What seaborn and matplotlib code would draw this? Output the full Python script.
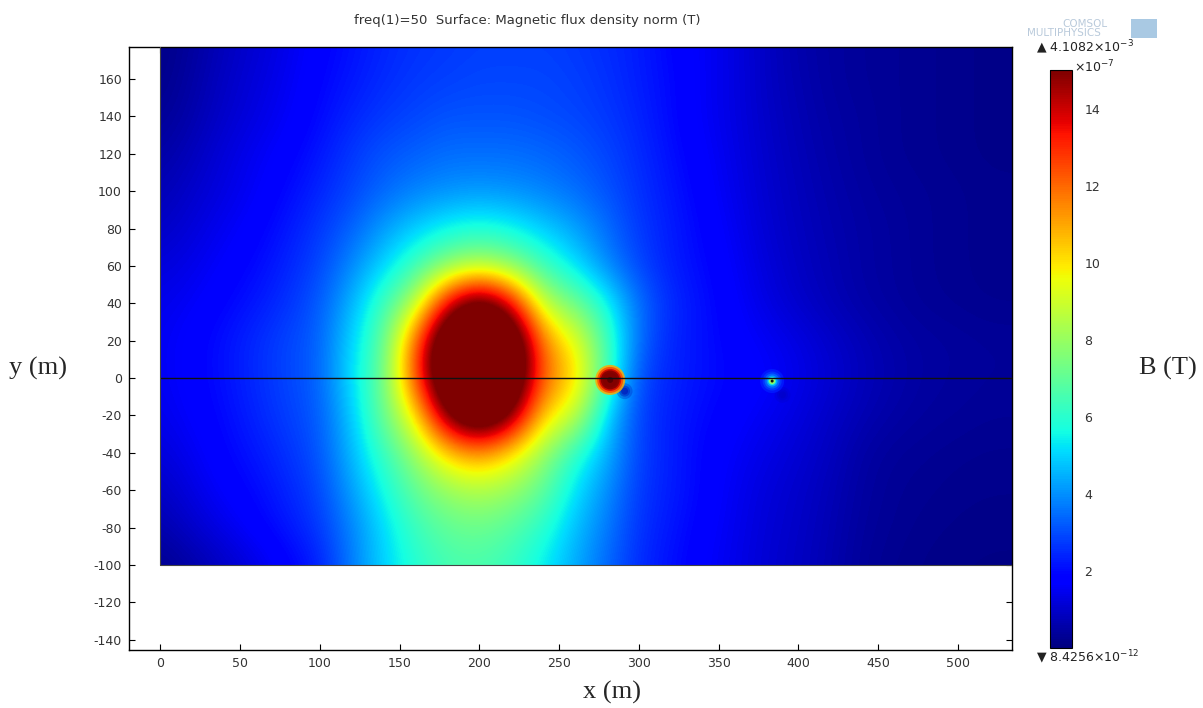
import numpy as np
import matplotlib
matplotlib.use("Agg")
import matplotlib.pyplot as plt
from matplotlib.patches import Rectangle
import seaborn as sns

# ---------------- data (values in 1e-7 T) ----------------
x_nodes = [0, 20, 40, 60, 80, 100, 120, 140, 160, 180, 200, 220, 240, 260,
           280, 300, 320, 340, 360, 380, 400, 420, 440, 460, 480, 500, 520, 540]
y_nodes = [180, 160, 140, 120, 100, 80, 60, 40, 20, 0, -20, -40, -60, -80, -100]

b_180 = [0.1, 0.4, 0.8, 1.1, 1.4, 1.8, 2.1, 2.4, 2.6, 2.7, 2.8, 2.8, 2.8, 2.7, 2.5, 2.3, 1.9, 1.6, 1.3, 0.9, 0.6, 0.45, 0.35, 0.3, 0.25, 0.2, 0.15, 0.15]
b_160 = [0.15, 0.5, 0.9, 1.2, 1.5, 1.9, 2.2, 2.5, 2.7, 2.8, 2.9, 2.9, 2.9, 2.8, 2.6, 2.3, 2.0, 1.6, 1.3, 0.9, 0.65, 0.45, 0.35, 0.3, 0.25, 0.2, 0.15, 0.15]
b_140 = [0.3, 0.6, 1.0, 1.3, 1.6, 2.0, 2.4, 2.7, 2.9, 3.1, 3.1, 3.1, 3.0, 2.9, 2.7, 2.4, 2.0, 1.6, 1.3, 0.95, 0.7, 0.5, 0.4, 0.3, 0.25, 0.2, 0.15, 0.15]
b_120 = [0.5, 0.8, 1.2, 1.5, 1.8, 2.2, 2.7, 3.1, 3.3, 3.5, 3.5, 3.5, 3.4, 3.2, 2.9, 2.5, 2.1, 1.7, 1.35, 1.0, 0.75, 0.55, 0.4, 0.3, 0.25, 0.2, 0.15, 0.15]
b_100 = [0.7, 1.0, 1.3, 1.6, 2.0, 2.4, 2.9, 3.4, 3.8, 4.0, 4.1, 4.0, 3.8, 3.5, 3.1, 2.6, 2.2, 1.8, 1.4, 1.05, 0.8, 0.6, 0.45, 0.35, 0.3, 0.25, 0.2, 0.2]
b_80 = [0.9, 1.2, 1.5, 1.8, 2.2, 2.7, 3.3, 4.2, 4.9, 5.5, 5.8, 5.5, 4.9, 4.3, 3.5, 2.7, 2.3, 1.9, 1.5, 1.1, 0.85, 0.65, 0.5, 0.4, 0.3, 0.25, 0.2, 0.2]
b_60 = [1.2, 1.4, 1.7, 2.0, 2.4, 2.9, 3.9, 5.0, 6.3, 7.7, 8.4, 7.7, 6.3, 5.2, 3.9, 2.9, 2.3, 2.0, 1.6, 1.2, 0.9, 0.7, 0.5, 0.4, 0.3, 0.25, 0.2, 0.2]
b_40 = [1.4, 1.6, 1.9, 2.2, 2.6, 3.2, 4.5, 6.3, 8.4, 14.0, 17.0, 14.0, 8.6, 7.3, 5.6, 3.5, 2.5, 2.1, 1.7, 1.3, 1.0, 0.75, 0.55, 0.42, 0.32, 0.27, 0.22, 0.22]
b_20 = [1.5, 1.8, 2.1, 2.5, 2.9, 3.3, 5.0, 6.8, 12.0, 18.0, 18.0, 18.0, 11.5, 9.6, 6.5, 3.4, 2.4, 2.1, 1.8, 1.55, 1.3, 1.0, 0.75, 0.55, 0.45, 0.4, 0.35, 0.35]
b_0 = [1.5, 1.8, 2.1, 2.5, 2.9, 3.3, 5.2, 7.0, 12.5, 18.0, 18.0, 18.0, 12.0, 10.5, 6.5, 2.9, 2.4, 2.1, 1.9, 1.7, 1.4, 1.1, 0.8, 0.6, 0.45, 0.4, 0.35, 0.35]
b_m20 = [1.4, 1.7, 2.0, 2.4, 2.8, 3.2, 4.8, 7.1, 9.8, 15.5, 18.0, 15.5, 10.2, 9.0, 5.0, 2.8, 2.3, 2.0, 1.75, 1.5, 1.25, 0.95, 0.7, 0.5, 0.4, 0.35, 0.3, 0.3]
b_m40 = [1.2, 1.5, 1.9, 2.2, 2.6, 3.1, 4.6, 6.2, 8.0, 10.3, 11.3, 10.0, 8.0, 6.0, 4.5, 2.8, 2.3, 1.9, 1.6, 1.35, 1.1, 0.85, 0.5, 0.35, 0.3, 0.25, 0.22, 0.22]
b_m60 = [0.9, 1.3, 1.7, 2.0, 2.4, 2.9, 4.2, 5.6, 7.0, 8.0, 8.4, 8.0, 7.0, 5.2, 4.0, 2.7, 2.3, 1.9, 1.5, 1.2, 1.0, 0.75, 0.45, 0.3, 0.25, 0.2, 0.18, 0.18]
b_m80 = [0.6, 1.0, 1.4, 1.8, 2.2, 2.7, 3.8, 5.1, 6.3, 7.0, 7.2, 6.8, 6.0, 4.7, 3.7, 2.6, 2.2, 1.8, 1.45, 1.15, 0.95, 0.7, 0.4, 0.28, 0.2, 0.16, 0.14, 0.14]
b_m100 = [0.2, 0.5, 0.9, 1.3, 1.8, 2.3, 3.7, 5.0, 5.9, 6.5, 6.6, 6.2, 5.4, 4.4, 3.4, 2.5, 2.1, 1.7, 1.4, 1.1, 0.9, 0.65, 0.35, 0.22, 0.16, 0.12, 0.1, 0.1]

# local features on the conductor line
dipole_x, dipole_y = 282.0, -1.0
dipole_ring_values = [11.0, 12.5, 14.0, 15.0, 16.0]
node_x, node_y = 383.5, -1.6
node_ring_values = [2.3, 2.8, 3.5, 4.5, 6.0, 8.5]
shadow_x = [291.0, 390.0]
shadow_y = [-7.0, -9.0]
shadow_values = [0.6, 0.9]

domain_x = [0, 540]
domain_y = [-100, 180]
conductor_y = 0

cbar_ticks = [2, 4, 6, 8, 10, 12, 14]
x_ticks = [0, 50, 100, 150, 200, 250, 300, 350, 400, 450, 500]
y_ticks = [-140, -120, -100, -80, -60, -40, -20, 0, 20, 40, 60, 80, 100, 120, 140, 160]
b_min, b_max = 0.0, 15.0

# ---------------- style ----------------
sns.set_theme(style="ticks")
plt.rcParams["font.family"] = ["DejaVu Sans"]
plt.rcParams["axes.unicode_minus"] = False

fig = plt.figure(figsize=(12.03, 7.08), dpi=100)
ax = fig.add_axes([0.1072, 0.0819, 0.7340, 0.8517])
x_lim = (-19.6, 533.8)
y_lim = (-145.5, 177.1)
ax.set_xlim(*x_lim)
ax.set_ylim(*y_lim)

B = np.array([b_180, b_160, b_140, b_120, b_100, b_80, b_60, b_40, b_20, b_0,
              b_m20, b_m40, b_m60, b_m80, b_m100])
dx = x_nodes[1] - x_nodes[0]
dy = y_nodes[0] - y_nodes[1]
extent = [x_nodes[0] - dx / 2, x_nodes[-1] + dx / 2,
          y_nodes[-1] - dy / 2, y_nodes[0] + dy / 2]
cmap = plt.get_cmap("jet")
im = ax.imshow(B, extent=extent, origin="upper", cmap=cmap, vmin=b_min, vmax=b_max,
               interpolation="bicubic", interpolation_stage="data", aspect="auto", zorder=1)
clip = Rectangle((domain_x[0], domain_y[0]), x_lim[1] - domain_x[0],
                 y_lim[1] - domain_y[0], transform=ax.transData)
im.set_clip_path(clip)
ax.set_xlim(*x_lim)
ax.set_ylim(*y_lim)

def px2s(d):
    return (d * 0.72) ** 2

# soft dark shadows next to the features
for sx, sy, sv in zip(shadow_x, shadow_y, shadow_values):
    for d, a in [(16, 0.25), (11, 0.35), (7, 0.45)]:
        ax.scatter([sx], [sy], s=px2s(d), c=[sv], cmap=cmap, vmin=b_min, vmax=b_max,
                   edgecolors="none", alpha=a, zorder=2)

# dipole (dark red spot)
for d, v in zip([30, 26, 22, 19, 15], dipole_ring_values):
    ax.scatter([dipole_x], [dipole_y], s=px2s(d), c=[v], cmap=cmap, vmin=b_min, vmax=b_max,
               edgecolors="none", alpha=0.85, zorder=3)
ax.scatter([dipole_x], [dipole_y], s=px2s(6), c="#5a0000", edgecolors="none", zorder=3)

# small node spot
for d, v in zip([24, 19, 15, 11, 8, 6], node_ring_values):
    ax.scatter([node_x], [node_y], s=px2s(d), c=[v], cmap=cmap, vmin=b_min, vmax=b_max,
               edgecolors="none", alpha=0.8, zorder=3)
ax.scatter([node_x], [node_y], s=px2s(3), c="#111111", edgecolors="none", zorder=3)

# conductor line and domain boundary
ax.hlines(conductor_y, domain_x[0], domain_x[1], color="#111111", lw=1.0, zorder=4)
ax.plot([domain_x[0], domain_x[0]], [domain_y[0], domain_y[1]], color="#444444", lw=0.8, zorder=4)
ax.plot([domain_x[0], domain_x[1]], [domain_y[0], domain_y[0]], color="#444444", lw=0.8, zorder=4)

ax.set_xlim(*x_lim)
ax.set_ylim(*y_lim)
ax.set_xticks(x_ticks)
ax.set_yticks(y_ticks)
ax.tick_params(direction="in", top=True, right=True, length=4, width=0.8,
               labelsize=9, labelcolor="#333333", color="black", pad=5)
for sp in ax.spines.values():
    sp.set_visible(True)
    sp.set_color("black")
    sp.set_linewidth(1.0)

# colour bar
cax = fig.add_axes([0.8728, 0.0847, 0.0183, 0.8164])
cb = fig.colorbar(im, cax=cax, ticks=cbar_ticks)
cb.outline.set_linewidth(0.8)
cb.outline.set_edgecolor("black")
cax.tick_params(direction="in", length=4, width=0.8, labelsize=9,
                labelcolor="#333333", pad=9)

# texts
fig.text(0.438, 0.971, "freq(1)=50  Surface: Magnetic flux density norm (T)",
         ha="center", va="center", fontsize=9.5, color="#333333")
serif = ["Liberation Serif", "DejaVu Serif"]
fig.text(0.0316, 0.48, "y (m)", ha="center", va="center", fontsize=19, family=serif)
fig.text(0.509, 0.022, "x (m)", ha="center", va="center", fontsize=19, family=serif)
fig.text(0.971, 0.48, "B (T)", ha="center", va="center", fontsize=19, family=serif)

fig.text(0.861, 0.9336, "\u25B2 4.1082\u00d710$^{-3}$", ha="left", va="center",
         fontsize=9, color="#222222")
fig.text(0.910, 0.906, "\u00d710$^{-7}$", ha="center", va="center", fontsize=9, color="#222222")
fig.text(0.861, 0.072, "\u25BC 8.4256\u00d710$^{-12}$", ha="left", va="center",
         fontsize=9, color="#222222")

# faded logo
fig.text(0.902, 0.966, "COMSOL", ha="center", va="center", fontsize=7.5, color="#b9cadb")
fig.text(0.884, 0.953, "MULTIPHYSICS", ha="center", va="center", fontsize=7.5, color="#b9cadb")
fig.patches.append(Rectangle((0.940, 0.946), 0.022, 0.027, transform=fig.transFigure,
                             facecolor="#a9c9e3", edgecolor="none"))

fig.savefig("out.png", dpi=100)
